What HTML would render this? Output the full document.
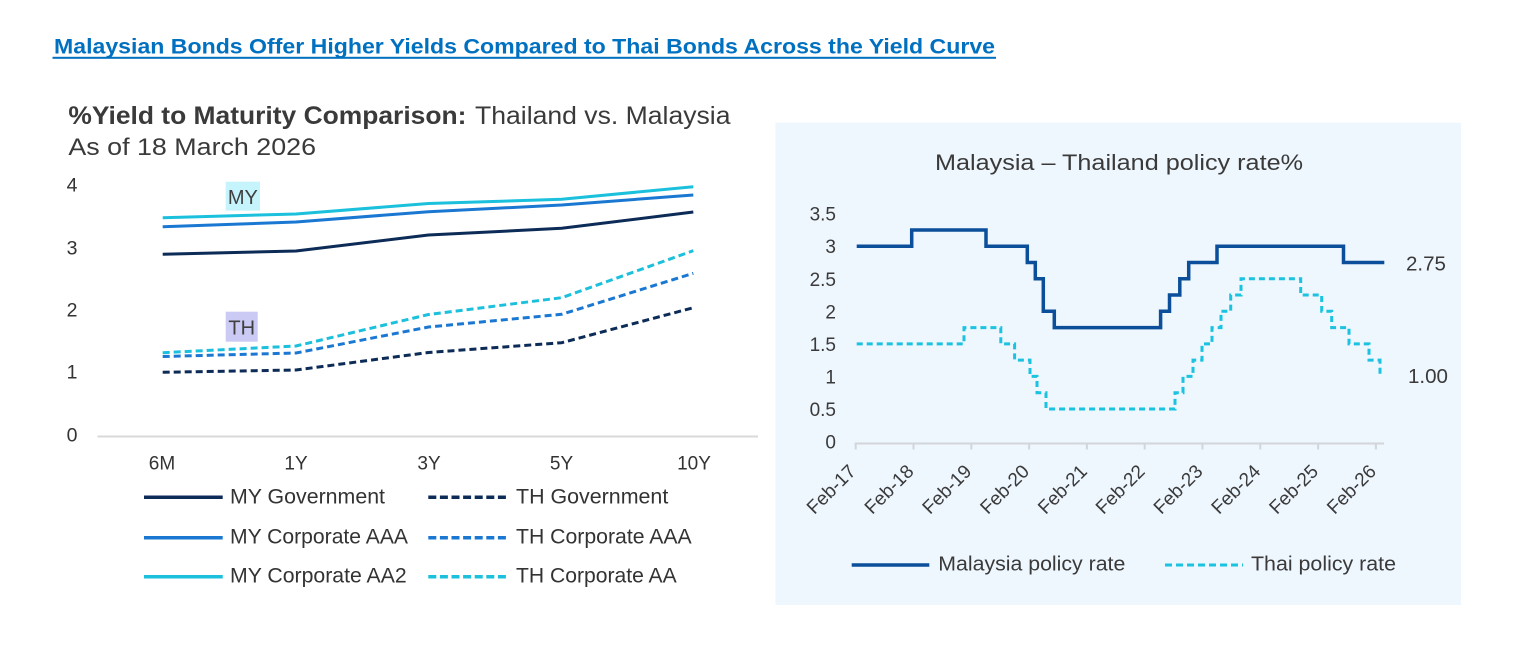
<!DOCTYPE html>
<html>
<head>
<meta charset="utf-8">
<style>
  html,body{margin:0;padding:0;background:#fff;}
  body{width:1522px;height:669px;overflow:hidden;}
  svg{display:block;}
  text{font-family:"Liberation Sans", Arial, sans-serif;}
</style>
</head>
<body>
<svg width="1522" height="669" viewBox="0 0 1522 669" xmlns="http://www.w3.org/2000/svg">
  <rect x="0" y="0" width="1522" height="669" fill="#ffffff"/>

  <!-- Main title -->
  <text x="54" y="53.5" font-size="21.5" font-weight="bold" fill="#0070C0" textLength="941" lengthAdjust="spacingAndGlyphs">Malaysian Bonds Offer Higher Yields Compared to Thai Bonds Across the Yield Curve</text>
  <rect x="52.5" y="56.8" width="943.5" height="2" fill="#0070C0"/>

  <!-- LEFT CHART -->
  <text x="68.4" y="124" font-size="25" font-weight="bold" fill="#3a3a3a" textLength="398" lengthAdjust="spacingAndGlyphs">%Yield to Maturity Comparison:</text>
  <text x="475" y="124" font-size="25" fill="#3a3a3a" textLength="255.5" lengthAdjust="spacingAndGlyphs">Thailand vs. Malaysia</text>
  <text x="68.4" y="155" font-size="24.5" fill="#3a3a3a" textLength="247.6" lengthAdjust="spacingAndGlyphs">As of 18 March 2026</text>

  <!-- y labels -->
  <g font-size="19.5" fill="#333" text-anchor="middle">
    <text x="72" y="191.5">4</text>
    <text x="72" y="254.5">3</text>
    <text x="72" y="316.5">2</text>
    <text x="72" y="378.5">1</text>
    <text x="72" y="441.5">0</text>
  </g>

  <!-- axis -->
  <line x1="97.5" y1="436.5" x2="758" y2="436.5" stroke="#d9d9d9" stroke-width="2"/>

  <!-- x labels -->
  <g font-size="19" fill="#333" text-anchor="middle">
    <text x="162" y="469.3">6M</text>
    <text x="296" y="469.3">1Y</text>
    <text x="429" y="469.3">3Y</text>
    <text x="561.5" y="469.3">5Y</text>
    <text x="694" y="469.3">10Y</text>
  </g>

  <!-- MY / TH tags -->
  <rect x="225.7" y="181.7" width="34.3" height="29" fill="#C6F4FC"/>
  <text x="242.9" y="204" font-size="20" fill="#404040" text-anchor="middle">MY</text>
  <rect x="225.7" y="311.7" width="32" height="30" fill="#CACAF4"/>
  <text x="241.7" y="334.5" font-size="20" fill="#404040" text-anchor="middle">TH</text>

  <!-- series -->
  <g fill="none" stroke-width="3" stroke-linejoin="round" stroke-linecap="butt">
    <polyline stroke="#1BC0DC" points="162.7,217.7 296,214 428.5,203.5 561.7,199.3 693.3,186.7"/>
    <polyline stroke="#1A78D2" points="162.7,226.7 296,222 428.5,211.7 561.7,205 693.3,195"/>
    <polyline stroke="#0C2B57" points="162.7,254.3 296,251 428.5,235 561.7,228.3 693.3,212"/>
    <polyline stroke="#1BC0DC" stroke-dasharray="7,4" points="162.7,352.7 296,346 428.5,314.5 561.7,297.7 693.3,250.7"/>
    <polyline stroke="#1A78D2" stroke-dasharray="7,4" points="162.7,356.5 296,353 428.5,327 561.7,314.3 693.3,273.3"/>
    <polyline stroke="#0C2B57" stroke-dasharray="7,4" points="162.7,372.3 296,370 428.5,352.5 561.7,342.7 693.3,307.7"/>
  </g>

  <!-- left legend -->
  <g stroke-width="3.5" fill="none">
    <line x1="144" y1="497.3" x2="222.7" y2="497.3" stroke="#0C2B57"/>
    <line x1="144" y1="537.7" x2="222.7" y2="537.7" stroke="#1A78D2"/>
    <line x1="144" y1="576.7" x2="222.7" y2="576.7" stroke="#1BC0DC"/>
    <line x1="428.3" y1="497.3" x2="508.3" y2="497.3" stroke="#0C2B57" stroke-dasharray="8,3.6"/>
    <line x1="428.3" y1="537.7" x2="508.3" y2="537.7" stroke="#1A78D2" stroke-dasharray="8,3.6"/>
    <line x1="428.3" y1="576.7" x2="508.3" y2="576.7" stroke="#1BC0DC" stroke-dasharray="8,3.6"/>
  </g>
  <g font-size="21" fill="#333">
    <text x="230" y="503.3" textLength="155" lengthAdjust="spacingAndGlyphs">MY Government</text>
    <text x="230" y="543.5" textLength="178" lengthAdjust="spacingAndGlyphs">MY Corporate AAA</text>
    <text x="230" y="582.7" textLength="176.7" lengthAdjust="spacingAndGlyphs">MY Corporate AA2</text>
    <text x="516" y="503.3" textLength="152.3" lengthAdjust="spacingAndGlyphs">TH Government</text>
    <text x="516" y="543.5" textLength="175.7" lengthAdjust="spacingAndGlyphs">TH Corporate AAA</text>
    <text x="516" y="582.7" textLength="160.7" lengthAdjust="spacingAndGlyphs">TH Corporate AA</text>
  </g>

  <!-- RIGHT CHART -->
  <rect x="775.5" y="122.7" width="685.5" height="482.3" fill="#EEF6FE"/>
  <text x="935" y="170" font-size="22" fill="#3a3a3a" textLength="368" lengthAdjust="spacingAndGlyphs">Malaysia – Thailand policy rate%</text>

  <g font-size="19" fill="#3a3a3a" text-anchor="end">
    <text x="836" y="220.6">3.5</text>
    <text x="836" y="253.2">3</text>
    <text x="836" y="285.8">2.5</text>
    <text x="836" y="318.3">2</text>
    <text x="836" y="350.9">1.5</text>
    <text x="836" y="383.4">1</text>
    <text x="836" y="416">0.5</text>
    <text x="836" y="448.5">0</text>
  </g>

  <!-- axis + ticks -->
  <g stroke="#d2d6da" stroke-width="2">
    <line x1="854.8" y1="443.5" x2="1384" y2="443.5"/>
    <line x1="855.7" y1="443" x2="855.7" y2="449.5"/>
    <line x1="913.5" y1="443" x2="913.5" y2="449.5"/>
    <line x1="971.3" y1="443" x2="971.3" y2="449.5"/>
    <line x1="1029.1" y1="443" x2="1029.1" y2="449.5"/>
    <line x1="1086.9" y1="443" x2="1086.9" y2="449.5"/>
    <line x1="1144.7" y1="443" x2="1144.7" y2="449.5"/>
    <line x1="1202.5" y1="443" x2="1202.5" y2="449.5"/>
    <line x1="1260.3" y1="443" x2="1260.3" y2="449.5"/>
    <line x1="1318.1" y1="443" x2="1318.1" y2="449.5"/>
    <line x1="1375.9" y1="443" x2="1375.9" y2="449.5"/>
  </g>

  <!-- rotated x labels -->
  <g font-size="19" fill="#3a3a3a" text-anchor="end">
    <text x="857" y="472.5" transform="rotate(-45 857 472.5)">Feb-17</text>
    <text x="914.8" y="472.5" transform="rotate(-45 914.8 472.5)">Feb-18</text>
    <text x="972.6" y="472.5" transform="rotate(-45 972.6 472.5)">Feb-19</text>
    <text x="1030.4" y="472.5" transform="rotate(-45 1030.4 472.5)">Feb-20</text>
    <text x="1088.2" y="472.5" transform="rotate(-45 1088.2 472.5)">Feb-21</text>
    <text x="1146" y="472.5" transform="rotate(-45 1146 472.5)">Feb-22</text>
    <text x="1203.8" y="472.5" transform="rotate(-45 1203.8 472.5)">Feb-23</text>
    <text x="1261.6" y="472.5" transform="rotate(-45 1261.6 472.5)">Feb-24</text>
    <text x="1319.4" y="472.5" transform="rotate(-45 1319.4 472.5)">Feb-25</text>
    <text x="1377.2" y="472.5" transform="rotate(-45 1377.2 472.5)">Feb-26</text>
  </g>

  <!-- Malaysia policy rate -->
  <path fill="none" stroke="#0B4F9A" stroke-width="3.5" stroke-linejoin="miter"
    d="M856.7,246.2 H911.7 V230 H986 V246.2 H1027.3 V262.5 H1035.3 V278.8 H1043.3 V311.3 H1054.3 V327.6 H1160.6 V311.3 H1169.5 V295 H1179.8 V278.8 H1188.7 V262.5 H1217 V246.2 H1343.5 V262.5 H1384.3"/>

  <!-- Thai policy rate -->
  <path fill="none" stroke="#1BC3E0" stroke-width="3" stroke-dasharray="6,4"
    d="M856.7,343.9 H964 V327.6 H1000.8 V343.9 H1014.6 V360.1 H1030 V376.4 H1037 V392.7 H1046 V408.95 H1175 V392.7 H1183 V376.4 H1193 V360.1 H1202 V343.9 H1212 V327.6 H1221 V311.3 H1230.7 V295 H1241 V278.8 H1300.7 V295 H1321.7 V311.3 H1331.7 V327.6 H1349 V343.9 H1369 V360.1 H1380 V376.4"/>

  <!-- end labels -->
  <text x="1406" y="270.3" font-size="20" fill="#3a3a3a" textLength="40" lengthAdjust="spacingAndGlyphs">2.75</text>
  <text x="1408" y="383" font-size="20" fill="#3a3a3a" textLength="40" lengthAdjust="spacingAndGlyphs">1.00</text>

  <!-- right legend -->
  <line x1="851.7" y1="565" x2="929.3" y2="565" stroke="#0B4F9A" stroke-width="3.5"/>
  <text x="938.3" y="570.5" font-size="20" fill="#3a3a3a" textLength="187" lengthAdjust="spacingAndGlyphs">Malaysia policy rate</text>
  <line x1="1165" y1="565" x2="1243" y2="565" stroke="#1BC3E0" stroke-width="3" stroke-dasharray="7,4"/>
  <text x="1251" y="570.5" font-size="20" fill="#3a3a3a" textLength="145" lengthAdjust="spacingAndGlyphs">Thai policy rate</text>
</svg>
</body>
</html>
